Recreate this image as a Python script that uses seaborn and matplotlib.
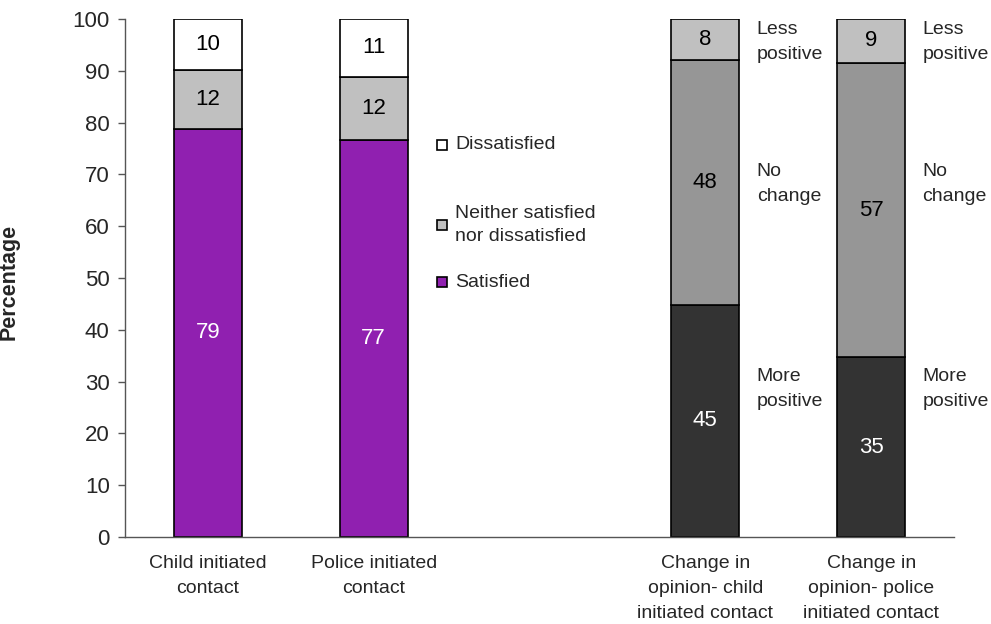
import matplotlib
matplotlib.use("Agg")
import matplotlib.pyplot as plt
import seaborn as sns
import numpy as np
from matplotlib.patches import Rectangle

# categories (blank slot in the middle separates the two groups)
categories = ["Child initiated\ncontact", "Police initiated\ncontact", "",
              "Change in\nopinion- child\ninitiated contact",
              "Change in\nopinion- police\ninitiated contact"]

# satisfaction bars (bottom -> top)
sat_groups = categories[:2]
satisfied = [78.8, 76.6]
neither = [11.4, 12.2]
dissatisfied = [9.8, 11.2]
satisfied_lbl = [79, 77]
neither_lbl = [12, 12]
dissatisfied_lbl = [10, 11]

# change in opinion bars (bottom -> top)
chg_groups = categories[3:]
more_positive = [44.8, 34.7]
no_change = [47.3, 56.8]
less_positive = [7.9, 8.5]
more_positive_lbl = [45, 35]
no_change_lbl = [48, 57]
less_positive_lbl = [8, 9]

legend_labels = ["Dissatisfied", "Neither satisfied\nnor dissatisfied", "Satisfied"]
side_labels = ["Less\npositive", "No\nchange", "More\npositive"]

PURPLE = "#9020B0"
LIGHT = "#C0C0C0"
MID = "#969696"
DARK = "#333333"

sns.set_style("white")
plt.rcParams["font.family"] = ["Liberation Sans", "DejaVu Sans"]

fig, ax = plt.subplots(figsize=(9.91, 6.24), dpi=100)
fig.subplots_adjust(left=0.1261, right=0.9627, bottom=0.1394, top=0.9696)


def stack(groups, layers, colors, labels, text_colors):
    bottom = np.zeros(len(groups))
    for vals, col, labs, tc in zip(layers, colors, labels, text_colors):
        sns.barplot(x=groups, y=vals, order=categories, bottom=bottom,
                    color=col, saturation=1, width=0.41, errorbar=None,
                    edgecolor="black", linewidth=1.2, ax=ax)
        for g, v, b, lab in zip(groups, vals, bottom, labs):
            ax.text(categories.index(g), b + v / 2, str(lab), ha="center",
                    va="center", fontsize=16, color=tc)
        bottom = bottom + np.array(vals)


stack(sat_groups, [satisfied, neither, dissatisfied],
      [PURPLE, LIGHT, "white"],
      [satisfied_lbl, neither_lbl, dissatisfied_lbl],
      ["white", "black", "black"])
stack(chg_groups, [more_positive, no_change, less_positive],
      [DARK, MID, LIGHT],
      [more_positive_lbl, no_change_lbl, less_positive_lbl],
      ["white", "black", "black"])

# labels to the right of the change bars
for i, g in enumerate(chg_groups):
    x = categories.index(g) + 0.31
    mids = [95.6, 68.1, 28.6]
    for lab, y in zip(side_labels, mids):
        ax.text(x, y, lab, ha="left", va="center", fontsize=14,
                linespacing=1.65)

# hand-made legend (uneven spacing as in the original)
leg_colors = ["white", LIGHT, PURPLE]
leg_y = [75.7, 60.2, 49.2]
for lab, col, y in zip(legend_labels, leg_colors, leg_y):
    ax.add_patch(Rectangle((1.382, y - 0.97), 0.06, 1.94, facecolor=col,
                           edgecolor="black", linewidth=1.2))
    ax.text(1.49, y, lab, ha="left", va="center", fontsize=14,
            linespacing=1.5)

ax.set_xlim(-0.5, 4.5)
ax.set_ylim(0, 100)
ax.set_yticks(range(0, 101, 10))
ax.set_xticks(range(len(categories)))
ax.set_xticklabels(categories, fontsize=14, linespacing=1.6)
ax.set_xticks(np.arange(-0.5, 5, 1), minor=True)
ax.tick_params(axis="x", which="major", length=0, pad=13)
ax.tick_params(axis="x", which="minor", length=5, width=1, color="#555555",
               direction="out")
ax.tick_params(axis="y", labelsize=16, length=5, width=1, color="#555555",
               direction="out", pad=6, left=True)
ax.set_xlabel("")
ax.set_ylabel("Percentage", fontsize=15.5, fontweight="bold")
ax.yaxis.set_label_coords(-0.127, 0.492)

sns.despine(ax=ax)
for side in ["left", "bottom"]:
    ax.spines[side].set_color("#555555")
    ax.spines[side].set_linewidth(1)

fig.savefig("out.png", dpi=100)
